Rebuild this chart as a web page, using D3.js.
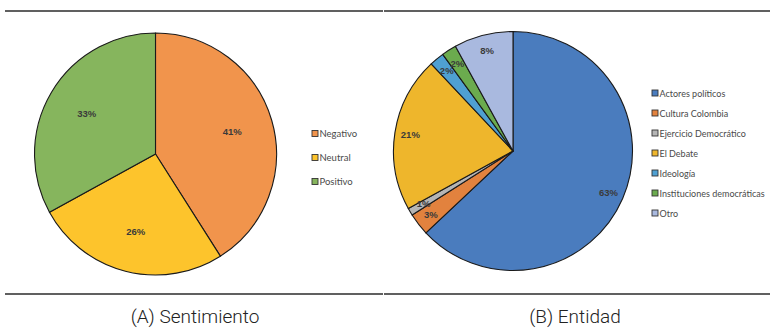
<!DOCTYPE html>
<html><head><meta charset="utf-8">
<script src="https://cdn.jsdelivr.net/npm/d3@7"></script>
<style>body{margin:0;background:#fff}svg{display:block}</style>
</head><body>
<svg id="c" width="770" height="330"></svg>
<script>
const sentCats = ["Negativo","Neutral","Positivo"];
const sentVals = [41,26,33];
const sentColors = ["#F1944C","#FDC42C","#86B55D"];
const entCats = ["Actores políticos","Cultura Colombia","Ejercicio Democrático","El Debate","Ideología","Instituciones democráticas","Otro"];
const entVals = [63,3,1,21,2,2,8];
const entColors = ["#4A7CBE","#E2823E","#B5B5B5","#EEB62C","#4FA0D2","#6BAB4E","#A9B9DF"];
const captions = ["(A) Sentimiento","(B) Entidad"];

const svg = d3.select("#c");

// rules
[[5,383,11],[384,770,11],[5,383,294],[384,770,294]].forEach(([a,b,y])=>{
  svg.append("line").attr("x1",a).attr("x2",b).attr("y1",y).attr("y2",y)
    .attr("stroke","#2b2b2b").attr("stroke-width",1.6);
});

function drawPie(cfg){
  const g = svg.append("g").attr("transform",`translate(${cfg.cx},${cfg.cy})`);
  const pie = d3.pie().sort(null).value(d=>d.v);
  const data = cfg.cats.map((c,i)=>({c, v:cfg.vals[i], col:cfg.colors[i]}));
  const arcs = pie(data);
  const arc = d3.arc().innerRadius(0).outerRadius(cfg.r);
  const larc = d3.arc().innerRadius(cfg.r*cfg.lf).outerRadius(cfg.r*cfg.lf);
  g.selectAll("path").data(arcs).join("path")
    .attr("d",arc).attr("fill",d=>d.data.col)
    .attr("stroke","#1a1a1a").attr("stroke-width",1.1).attr("stroke-linejoin","round");
  g.selectAll("text").data(arcs).join("text")
    .attr("transform",d=>`translate(${larc.centroid(d)})`)
    .attr("text-anchor","middle").attr("dy","0.35em")
    .attr("font-family","'Liberation Sans', Arial, sans-serif").attr("font-weight","bold")
    .attr("font-size",cfg.fs).attr("fill","#3a3a3a")
    .text(d=>d.data.v+"%");
  const lg = svg.append("g").attr("transform",`translate(${cfg.lx},${cfg.ly})`);
  const items = lg.selectAll("g").data(data).join("g")
    .attr("transform",(d,i)=>`translate(0,${i*cfg.ls})`);
  items.append("rect").attr("x",0).attr("y",-3.5).attr("width",6).attr("height",6)
    .attr("fill",d=>d.col).attr("stroke","#333").attr("stroke-width",0.9);
  items.append("text").attr("x",7.5).attr("y",0).attr("dy","0.35em")
    .attr("font-family","Lato, 'Liberation Sans', sans-serif").attr("font-size",cfg.lfs)
    .attr("fill","#4a4a4a").text(d=>d.c);
}

drawPie({cats:sentCats, vals:sentVals, colors:sentColors, cx:155.5, cy:154, r:121, lf:0.66, fs:9.5,
  lx:312, ly:134, ls:24, lfs:9.5});
drawPie({cats:entCats, vals:entVals, colors:entColors, cx:513, cy:151, r:119.5, lf:0.87, fs:9.5,
  lx:652, ly:93.5, ls:20, lfs:9});

svg.selectAll("text.cap").data(captions).join("text").attr("class","cap")
  .attr("x",(d,i)=>i===0?195:575).attr("y",323)
  .attr("text-anchor","middle")
  .attr("font-family","Roboto, 'Noto Sans', sans-serif").attr("font-weight",300)
  .attr("font-size",19).attr("fill","#222").text(d=>d);
</script>
</body></html>
